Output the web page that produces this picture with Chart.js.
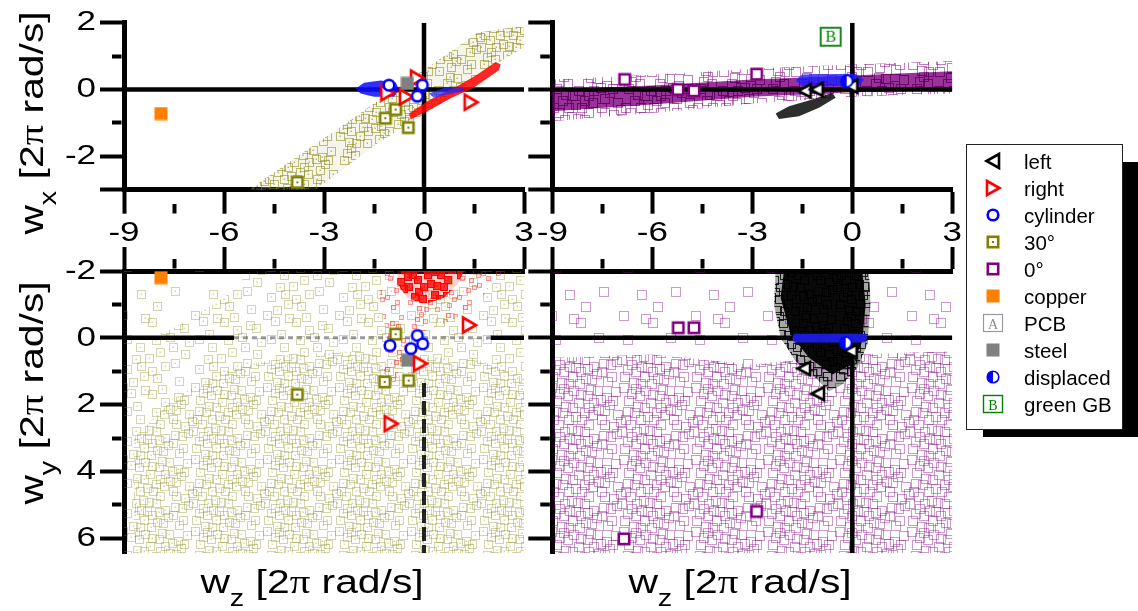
<!DOCTYPE html>
<html>
<head>
<meta charset="utf-8">
<title>Angular velocity scatter</title>
<script src="https://cdn.jsdelivr.net/npm/chart.js@4.4.1/dist/chart.umd.min.js"></script>
<style>
html,body{margin:0;padding:0;background:#fff;}
#root{position:relative;width:1138px;height:611px;overflow:hidden;background:#fff;font-family:"Liberation Sans",Arial,sans-serif;}
#root canvas{position:absolute;}
.ttl{position:absolute;font-size:34px;line-height:34px;white-space:nowrap;color:#000;}
.ttl .pi{font-family:"Liberation Serif","Times New Roman",serif;}
.ttl .sb{font-size:24px;position:relative;top:13px;}
#legShadow{position:absolute;left:983px;top:162px;width:170px;height:275px;background:#000;}
#legend{position:absolute;left:966px;top:144px;width:157px;height:286px;background:#fff;border:1.5px solid #222;box-sizing:border-box;}
.li{position:absolute;left:0;height:27px;width:155px;}
.li svg{position:absolute;left:15px;top:2px;}
.li span{position:absolute;left:57px;top:0;font-size:20.5px;line-height:27px;color:#000;white-space:nowrap;}
</style>
</head>
<body>
<div id="root">
  <canvas id="cTL" style="left:0;top:0;"></canvas>
  <canvas id="cTR" style="left:428px;top:0;"></canvas>
  <canvas id="cBL" style="left:0;top:240px;"></canvas>
  <canvas id="cBR" style="left:428px;top:240px;"></canvas>
  <div class="ttl" id="tTL" style="left:33px;top:123px;transform:translate(-50%,-50%) rotate(-90deg) scaleX(1.2);">w<span class="sb">x</span> [2<span class="pi">π</span> rad/s]</div>
  <div class="ttl" id="tBL" style="left:33px;top:393px;transform:translate(-50%,-50%) rotate(-90deg) scaleX(1.2);">w<span class="sb">y</span> [2<span class="pi">π</span> rad/s]</div>
  <div class="ttl" id="tB1" style="left:312px;top:564px;transform:translateX(-50%) scaleX(1.2);">w<span class="sb">z</span> [2<span class="pi">π</span> rad/s]</div>
  <div class="ttl" id="tB2" style="left:740px;top:564px;transform:translateX(-50%) scaleX(1.2);">w<span class="sb">z</span> [2<span class="pi">π</span> rad/s]</div>
  <div id="legShadow"></div>
  <div id="legend"></div>
</div>
<script>
// ================= DATA =================
const wzRange = [-9, 3];
const wxRange = [-3, 2];
const wyRange = [-2, 6.45];
const wzTicksMajor = [-9, -6, -3, 0, 3];
const wzTicksMinor = [-7.5, -4.5, -1.5, 1.5];
const wzTickLabels = [-9, -6, -3, 0, 3];
const wxTicksMajor = [-3, -2, 0, 2];
const wxTicksMinor = [-1, 1];
const wxTickLabels = [-2, 0, 2];
const wyTicksMajor = [-2, 0, 2, 4, 6];
const wyTicksMinor = [-1, 1, 3, 5];
const wyTickLabels = [-2, 0, 2, 4, 6];

// top-left panel: w_x vs w_z
const tlCopper   = [[-7.89, -0.72]];
const tl30       = [[-1.16, -0.86], [-0.85, -0.6], [-0.47, -1.14], [-3.8, -2.78]];
const tlRight    = [[-0.21, 0.34], [-0.54, -0.22], [-1.1, -0.1], [1.4, -0.38]];
const tlCylinder = [[-1.05, 0.13], [-0.05, 0.13], [-0.2, -0.2]];
const tlSteel    = [[-0.5, 0.18]];
const tlOliveBand = [[-5.45,-3.15],[-4.7,-2.62],[-2.4,-1.05],[-0.9,0.0],[0.2,0.72],[1.6,1.7],[2.75,1.88],[3.05,1.85],[3.05,1.3],[1.8,0.55],[0.7,-0.3],[-1.4,-1.62],[-3.45,-3.15]];
const tlRedBand  = [[-0.45,-0.72],[0.15,-0.32],[1.0,0.1],[1.6,0.45],[2.15,0.82],[2.3,0.75],[2.25,0.58],[1.5,0.06],[0.8,-0.26],[0.15,-0.62],[-0.4,-0.9]];
const tlBlueA    = [[-2.05,0.02],[-1.8,0.2],[-1.3,0.27],[-0.85,0.22],[-0.75,0.0],[-0.9,-0.22],[-1.5,-0.22],[-1.9,-0.12]];
const tlBlueB    = [[0.15,-0.12],[0.6,0.05],[1.15,0.08],[1.2,-0.05],[0.7,-0.15],[0.3,-0.25]];

// top-right panel: w_x vs w_z
const trGreenGB   = [[-0.65, 1.58]];
const tr0         = [[-6.83, 0.3], [-5.23, 0.0], [-4.75, -0.04], [-2.87, 0.46]];
const trLeft      = [[-1.43, -0.04], [-1.07, 0.0], [-0.03, 0.1]];
const trDisplaced = [[-0.17, 0.25]];
const trPurpleOuter = [[-9,0.3],[-7,0.4],[-5,0.5],[-3,0.62],[0,0.75],[3,0.85],[3,-0.12],[0,-0.22],[-3,-0.42],[-6,-0.7],[-9,-0.95]];
const trPurpleCore  = [[-9,0.0],[-6,0.12],[-3,0.3],[0,0.42],[3,0.55],[3,-0.03],[0,-0.08],[-3,-0.22],[-6,-0.45],[-9,-0.65]];
const trBlack       = [[-2.3,-0.72],[-2.2,-0.88],[-1.6,-0.8],[-1.0,-0.55],[-0.5,-0.25],[-0.6,-0.1],[-1.2,-0.3],[-1.9,-0.5]];
const trBlue        = [[-1.7,0.28],[-1.5,0.45],[0.1,0.47],[0.35,0.3],[0.2,0.1],[-1.5,0.1]];

// bottom-left panel: w_y vs w_z
const blCopper   = [[-7.89, -1.8]];
const bl30       = [[-0.85, -0.11], [-1.18, 1.32], [-0.46, 1.28], [-3.8, 1.7]];
const blCylinder = [[-1.02, 0.23], [-0.2, -0.07], [-0.04, 0.18], [-0.39, 0.32]];
const blSteel    = [[-0.49, 0.67]];
const blRight    = [[-0.12, 0.77], [-1.0, 2.57], [1.35, -0.38]];
const blOliveSparse = [[-9,-2],[3,-2],[3,6.45],[-9,6.45]];
const blOliveMid    = [[-9,0.3],[-7.5,-0.3],[-6,-1.2],[-5.2,-2],[3,-2],[3,6.45],[-9,6.45]];
const blOliveDense  = [[-8.7,3.0],[-7.5,1.8],[-6,1.0],[-4,0.5],[-2,0.4],[0,0.6],[1.5,0.6],[3,1.2],[3,6.45],[-8.7,6.45]];
const blRedOuter    = [[-1.4,-2.0],[2.4,-2.0],[2.0,-1.6],[1.6,-1.0],[0.8,-0.5],[0.0,-0.2],[-0.6,0.5],[-0.9,1.4],[-1.2,1.0],[-1.1,0.0],[-1.3,-1.0]];
const blRedCore     = [[-0.8,-2.0],[1.2,-2.0],[1.0,-1.6],[0.6,-1.2],[0.0,-1.0],[-0.5,-1.2],[-0.8,-1.6]];
const blZeroSolidA  = [[-9,0],[-5.7,0]];
const blZeroSolidB  = [[2.0,0],[3,0]];
const blZeroFaint   = [[-5.7,0],[2.0,0]];
const blZeroVert    = [[0,1.35],[0,6.45]];

// bottom-right panel: w_y vs w_z
const br0         = [[-5.22, -0.3], [-4.75, -0.3], [-2.87, 5.2], [-6.85, 6.02]];
const brLeft      = [[-1.45, 0.92], [-1.03, 1.67], [-0.05, 0.4]];
const brDisplaced = [[-0.2, 0.15]];
const brPurpleSparse = [[-9,-2],[3,-2],[3,6.45],[-9,6.45]];
const brPurpleDense  = [[-9,0.6],[-6,0.5],[-3,0.8],[0,0.5],[3,0.4],[3,6.45],[-9,6.45]];
const brBlackOuter   = [[-2.3,-2.0],[0.5,-2.0],[0.55,-1.0],[0.45,0.2],[0.15,0.9],[-0.3,1.4],[-0.7,1.6],[-1.1,1.2],[-1.7,0.7],[-2.15,0.0],[-2.35,-1.0]];
const brBlackCore    = [[-2.05,-2.0],[0.3,-2.0],[0.4,-1.0],[0.3,0.1],[0.0,0.8],[-0.6,1.1],[-1.3,0.6],[-1.85,-0.1],[-2.15,-1.2]];
const brBlue         = [[-1.8,0.0],[-1.75,-0.12],[0.4,-0.12],[0.45,0.0],[0.4,0.14],[-1.75,0.14]];

const legendLabels = ['left', 'right', 'cylinder', '30°', '0°', 'copper', 'PCB', 'steel', 'displaced', 'green GB'];

// ================= STYLE HELPERS =================
const TEXT_SX = 1.25;
const FONT = '"Liberation Sans", Arial, sans-serif';
function mk(w, h, draw) { const c = document.createElement('canvas'); c.width = w; c.height = h; draw(c.getContext('2d'), w, h); return c; }

const M = {
  right: mk(20, 22, g => { g.beginPath(); g.moveTo(4, 3.5); g.lineTo(17, 11); g.lineTo(4, 18.5); g.closePath(); g.fillStyle = '#fff'; g.fill(); g.lineWidth = 2.6; g.strokeStyle = '#ff0000'; g.stroke(); }),
  left: mk(20, 20, g => { g.beginPath(); g.moveTo(16, 3.5); g.lineTo(3.5, 10); g.lineTo(16, 16.5); g.closePath(); g.fillStyle = '#fff'; g.fill(); g.lineWidth = 2.6; g.strokeStyle = '#000'; g.stroke(); }),
  cylinder: mk(16, 16, g => { g.beginPath(); g.arc(8, 8, 5.3, 0, Math.PI * 2); g.fillStyle = '#fff'; g.fill(); g.lineWidth = 2.6; g.strokeStyle = '#0000ff'; g.stroke(); }),
  deg30: mk(16, 16, g => { g.fillStyle = '#fff'; g.fillRect(2.8, 2.8, 10.4, 10.4); g.lineWidth = 2.6; g.strokeStyle = '#808000'; g.strokeRect(2.8, 2.8, 10.4, 10.4); g.fillStyle = '#808000'; g.fillRect(7, 7, 2, 2); }),
  deg0: mk(16, 16, g => { g.fillStyle = '#fff'; g.fillRect(2.8, 2.8, 10.4, 10.4); g.lineWidth = 2.6; g.strokeStyle = '#800080'; g.strokeRect(2.8, 2.8, 10.4, 10.4); }),
  copper: mk(14, 14, g => { g.fillStyle = '#ff8000'; g.fillRect(0.5, 0.5, 13, 13); }),
  steel: mk(14, 14, g => { g.fillStyle = '#808080'; g.fillRect(0.5, 0.5, 13, 13); }),
  displaced: mk(16, 16, g => { g.beginPath(); g.arc(8, 8, 5.8, 0, Math.PI * 2); g.fillStyle = '#fff'; g.fill(); g.beginPath(); g.arc(8, 8, 5.8, Math.PI / 2, Math.PI * 1.5); g.closePath(); g.fillStyle = '#0000ff'; g.fill(); g.beginPath(); g.arc(8, 8, 5.8, 0, Math.PI * 2); g.lineWidth = 1.8; g.strokeStyle = '#0000ff'; g.stroke(); }),
  greenGB: mk(24, 22, g => { g.fillStyle = '#fff'; g.fillRect(2, 2, 20, 18); g.lineWidth = 1.8; g.strokeStyle = '#008000'; g.strokeRect(2, 2, 20, 18); g.fillStyle = '#008000'; g.font = '16px "Liberation Serif"'; g.textAlign = 'center'; g.textBaseline = 'middle'; g.fillText('B', 12, 11.5); })
};

// texture tiles for the dense point clouds: hand placed squares in a 36px cell,
// shifted by a different amount in each quadrant of a 72px tile to soften the repeat
const OFF_SPARSE = [[4, 6], [22, 21]];
const OFF_MID = [[14, 1], [30, 9], [8, 24], [25, 31], [17, 14]];
const OFF_DENSE = [[2, 14], [11, 7], [21, 2], [28, 22], [5, 31], [16, 26], [33, 16], [24, 11], [12, 19]];
const QUAD_SHIFT = [[0, 0, 0, 0], [36, 0, 11, 17], [0, 36, 23, 5], [36, 36, 7, 29]];
function quad(offs) {
  const out = [];
  QUAD_SHIFT.forEach(([qx, qy, sx, sy]) => offs.forEach(([x, y]) => out.push([qx + (x + sx) % 36, qy + (y + sy) % 36])));
  return out;
}
function tile(color, offs, size, opts) {
  opts = opts || {};
  const T = 72;
  const all = quad(offs);
  return mk(T, T, g => {
    for (const [ox, oy] of all) for (const dx of [-T, 0, T]) for (const dy of [-T, 0, T]) {
      const x = ox + dx, y = oy + dy;
      if (opts.fill) { g.fillStyle = opts.fill; g.fillRect(x, y, size, size); }
      g.strokeStyle = color; g.lineWidth = 1; g.strokeRect(x + 0.5, y + 0.5, size - 1, size - 1);
      if (opts.dot) { g.fillStyle = color; g.fillRect(x + Math.floor(size / 2) - 0.5, y + Math.floor(size / 2) - 0.5, 1.5, 1.5); }
    }
    if (opts.bg) { g.globalCompositeOperation = 'destination-over'; g.fillStyle = opts.bg; g.fillRect(0, 0, T, T); }
  });
}

function patchText(ctx) {
  const f = ctx.fillText.bind(ctx);
  ctx.fillText = function (t, x, y, m) {
    ctx.save(); ctx.translate(x, y); ctx.scale(TEXT_SX, 1);
    if (m === undefined) f(t, 0, 0); else f(t, 0, 0, m);
    ctx.restore();
  };
}

function poly(pts, bg) { return { data: pts, showLine: true, fill: 'shape', backgroundColor: bg, borderColor: 'rgba(0,0,0,0)', borderWidth: 0, pointRadius: 0, pointHoverRadius: 0, tension: 0, clip: 0 }; }
function seg(pts, color, width, dash) { return { data: pts, showLine: true, fill: false, borderColor: color, borderWidth: width, borderDash: dash || [], borderCapStyle: 'butt', pointRadius: 0, pointHoverRadius: 0, tension: 0, clip: 0 }; }
function marks(data, img) { return { data: data, showLine: false, pointStyle: img, pointRadius: 7, pointHoverRadius: 7, clip: false }; }

function tickGrid(minor) {
  return {
    display: true, drawOnChartArea: false, drawTicks: true, tickLength: 24, tickWidth: 4, tickColor: '#000',
    tickBorderDash: c => (c.tick && minor.includes(c.tick.value)) ? [9.5, 12] : [],
    tickBorderDashOffset: c => (c.tick && minor.includes(c.tick.value)) ? 9.5 : 0
  };
}
function axisX(pos, showLabels, h) {
  return {
    type: 'linear', position: pos, min: wzRange[0], max: wzRange[1],
    afterBuildTicks: s => { s.ticks = wzTicksMajor.concat(wzTicksMinor).sort((a, b) => a - b).map(v => ({ value: v })); },
    afterFit: s => { s.height = h; },
    ticks: { display: showLabels, autoSkip: false, maxRotation: 0, minRotation: 0, padding: 2.5, color: '#000', font: { family: FONT, size: 28 },
      callback: v => wzTickLabels.includes(v) ? String(v) : '' },
    grid: tickGrid(wzTicksMinor),
    border: { display: true, width: 5, color: '#000' }
  };
}
function axisY(range, major, minor, labelVals, reverse, showLabels, w) {
  return {
    type: 'linear', position: 'left', min: range[0], max: range[1], reverse: reverse,
    afterBuildTicks: s => { s.ticks = major.concat(minor).sort((a, b) => a - b).map(v => ({ value: v })); },
    afterFit: s => { s.width = w; },
    ticks: { display: showLabels, autoSkip: false, padding: 4, color: '#000', font: { family: FONT, size: 28 },
      callback: v => labelVals.includes(v) ? String(v) : '' },
    grid: tickGrid(minor),
    border: { display: true, width: 5, color: '#000' }
  };
}

function makePanel(id, spec) {
  const cv = document.getElementById(id);
  cv.width = spec.w; cv.height = spec.h;
  cv.style.width = spec.w + 'px'; cv.style.height = spec.h + 'px';
  const ctx = cv.getContext('2d');
  patchText(ctx);
  const P = (color, offs, size, opts) => ctx.createPattern(tile(color, offs, size, opts), 'repeat');
  const ds = spec.build(P);
  ds.forEach((d, i) => { d.order = 1000 - i; });
  return new Chart(ctx, {
    type: 'scatter',
    data: { datasets: ds },
    options: {
      responsive: false, animation: false, events: [], devicePixelRatio: 1,
      layout: { padding: { left: 0, top: spec.padTop, right: spec.padRight, bottom: spec.padBottom } },
      plugins: { legend: { display: false }, tooltip: { enabled: false } },
      scales: { x: spec.x, y: spec.y }
    }
  });
}

const zeroH = [[wzRange[0], 0], [wzRange[1], 0]];
const zeroVtop = [[0, wxRange[0]], [0, wxRange[1]]];
const zeroVbot = [[0, 0], [0, wyRange[1]]];

// ---------- top-left ----------
makePanel('cTL', {
  w: 560, h: 262, padTop: 22.7, padRight: 36, padBottom: 0,
  x: axisX('bottom', true, 72.3),
  y: axisY(wxRange, wxTicksMajor, wxTicksMinor, wxTickLabels, false, true, 124),
  build: P => [
    poly(tlOliveBand, P('rgba(128,128,0,0.5)', OFF_MID.concat(OFF_DENSE), 9, { dot: true, bg: 'rgba(190,190,130,0.15)' })),
    seg(zeroH, '#000', 4.5), seg(zeroVtop, '#000', 4.5),
    poly(tlRedBand, 'rgba(255,0,0,0.85)'),
    poly(tlBlueA, 'rgba(10,10,255,0.85)'),
    poly(tlBlueB, 'rgba(40,40,255,0.75)'),
    marks(tl30, M.deg30), marks(tlRight, M.right), marks(tlSteel, M.steel),
    marks(tlCylinder, M.cylinder), marks(tlCopper, M.copper)
  ]
});

// ---------- top-right ----------
makePanel('cTR', {
  w: 560, h: 262, padTop: 22.7, padRight: 35.7, padBottom: 0,
  x: axisX('bottom', true, 72.3),
  y: axisY(wxRange, wxTicksMajor, wxTicksMinor, wxTickLabels, false, false, 124.3),
  build: P => [
    poly(trPurpleOuter, P('rgba(128,0,128,0.5)', OFF_MID.concat(OFF_DENSE), 10, {})),
    poly(trPurpleCore, P('rgba(90,0,90,0.7)', OFF_MID.concat(OFF_DENSE), 10, { bg: 'rgba(128,0,128,0.8)' })),
    poly(trBlack, 'rgba(0,0,0,0.82)'),
    seg(zeroH, '#000', 4.5), seg(zeroVtop, '#000', 4.5),
    poly(trBlue, 'rgba(30,30,255,0.8)'),
    marks(tr0, M.deg0), marks(trLeft, M.left), marks(trDisplaced, M.displaced), marks(trGreenGB, M.greenGB)
  ]
});

// ---------- bottom-left ----------
makePanel('cBL', {
  w: 560, h: 340, padTop: 0, padRight: 36, padBottom: 26.7,
  x: axisX('top', false, 31),
  y: axisY(wyRange, wyTicksMajor, wyTicksMinor, wyTickLabels, true, true, 124),
  build: P => [
    poly(blOliveSparse, P('rgba(128,128,0,0.35)', OFF_SPARSE, 9, { dot: true })),
    poly(blOliveMid, P('rgba(128,128,0,0.33)', OFF_MID, 9, { dot: true })),
    poly(blOliveDense, P('rgba(128,128,0,0.33)', OFF_DENSE, 9, { dot: true })),
    poly(blRedOuter, P('rgba(255,0,0,0.35)', OFF_MID.concat(OFF_DENSE), 5, { fill: 'rgba(255,0,0,0.1)' })),
    poly(blRedCore, P('rgba(255,0,0,0.9)', OFF_MID.concat(OFF_DENSE), 8, { fill: 'rgba(255,0,0,0.75)', bg: 'rgba(255,60,60,0.25)' })),
    seg(blZeroSolidA, '#000', 4.5), seg(blZeroSolidB, '#000', 4.5),
    seg(blZeroFaint, 'rgba(70,70,90,0.55)', 3, [5, 4]),
    seg(blZeroVert, 'rgba(0,0,0,0.85)', 4, [14, 4]),
    marks(bl30, M.deg30), marks(blSteel, M.steel), marks(blRight, M.right),
    marks(blCylinder, M.cylinder), marks(blCopper, M.copper)
  ]
});

// ---------- bottom-right ----------
makePanel('cBR', {
  w: 560, h: 340, padTop: 0, padRight: 35.7, padBottom: 26.7,
  x: axisX('top', false, 31),
  y: axisY(wyRange, wyTicksMajor, wyTicksMinor, wyTickLabels, true, false, 124.3),
  build: P => [
    poly(brPurpleSparse, P('rgba(128,0,128,0.4)', OFF_SPARSE, 10, {})),
    poly(brPurpleDense, P('rgba(128,0,128,0.4)', OFF_MID.concat(OFF_DENSE), 10, {})),
    seg(zeroH, '#000', 4.5), seg(zeroVbot, '#000', 4.5),
    poly(brBlackOuter, P('rgba(0,0,0,0.8)', OFF_MID.concat(OFF_DENSE), 9, { bg: 'rgba(0,0,0,0.35)' })),
    poly(brBlackCore, P('rgba(0,0,0,1)', OFF_MID.concat(OFF_DENSE), 9, { bg: 'rgba(0,0,0,0.95)' })),
    poly(brBlue, 'rgba(30,30,255,0.85)'),
    marks(br0, M.deg0), marks(brLeft, M.left), marks(brDisplaced, M.displaced)
  ]
});

// ---------- legend ----------
const legendSymbols = [
  '<polygon points="17,4 4.5,11 17,18" fill="#fff" stroke="#000" stroke-width="2.6"/>',
  '<polygon points="5,4 17.5,11 5,18" fill="#fff" stroke="#f00" stroke-width="2.6"/>',
  '<circle cx="11" cy="11" r="5.3" fill="#fff" stroke="#00f" stroke-width="2.6"/>',
  '<rect x="5.8" y="5.8" width="10.4" height="10.4" fill="#fff" stroke="#808000" stroke-width="2.6"/><rect x="10" y="10" width="2" height="2" fill="#808000"/>',
  '<rect x="5.8" y="5.8" width="10.4" height="10.4" fill="#fff" stroke="#800080" stroke-width="2.6"/>',
  '<rect x="4.5" y="4.5" width="13" height="13" fill="#ff8000"/>',
  '<rect x="1.5" y="2.5" width="19" height="17" fill="#fff" stroke="#9a9a9a" stroke-width="1.2"/><text x="11" y="16.5" font-family="Liberation Serif" font-size="14" fill="#8a8a8a" text-anchor="middle">A</text>',
  '<rect x="4.5" y="4.5" width="13" height="13" fill="#808080"/>',
  '<circle cx="11" cy="11" r="5.8" fill="#fff" stroke="#00f" stroke-width="1.6"/><path d="M11,5.2 A5.8,5.8 0 0 0 11,16.8 Z" fill="#00f"/>',
  '<rect x="1.5" y="2.5" width="19" height="17" fill="#fff" stroke="#008000" stroke-width="1.4"/><text x="11" y="16.5" font-family="Liberation Serif" font-size="14" fill="#008000" text-anchor="middle">B</text>'
];
const leg = document.getElementById('legend');
legendLabels.forEach((lab, i) => {
  const row = document.createElement('div');
  row.className = 'li';
  row.style.top = (17.7 + i * 27.05 - 13.5 - 1.5) + 'px';
  row.innerHTML = '<svg width="22" height="22" viewBox="0 0 22 22">' + legendSymbols[i] + '</svg><span></span>';
  row.querySelector('span').textContent = lab;
  leg.appendChild(row);
});
</script>
</body>
</html>
